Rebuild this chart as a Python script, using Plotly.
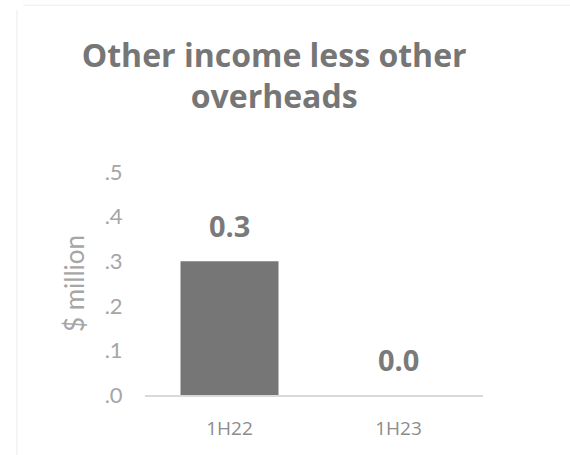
import plotly.graph_objects as go

categories = ["1H22", "1H23"]
values = [0.3, 0.0]
tick_vals = [0.0, 0.1, 0.2, 0.3, 0.4, 0.5]
tick_text = [".0", ".1", ".2", ".3", ".4", ".5"]
title_text = "Other income less other<br>overheads"
y_title = "$ million"

fig = go.Figure()
fig.add_trace(go.Bar(
    x=categories, y=values,
    marker=dict(color="#767676", line=dict(width=0)),
    width=0.58,
    hoverinfo="skip",
))

for c, v in zip(categories, values):
    fig.add_annotation(
        x=c, y=v, xref="x", yref="y",
        text=f"{v:.1f}", showarrow=False,
        yanchor="bottom", yshift=14,
        font=dict(family="Open Sans", size=29, color="#7a7a7a", weight="bold"),
    )

# faint outer chart border (left and top edges)
fig.add_shape(type="line", xref="paper", yref="paper",
              x0=-0.379, x1=-0.379, y0=-0.3, y1=1.726,
              line=dict(color="#f3f3f3", width=1.5))
fig.add_shape(type="line", xref="paper", yref="paper",
              x0=-0.36, x1=1.3, y0=1.748, y1=1.748,
              line=dict(color="#f3f3f3", width=1.5))

fig.update_layout(
    width=570, height=455,
    paper_bgcolor="white", plot_bgcolor="white",
    margin=dict(l=145, r=87, t=172, b=60),
    showlegend=False,
    title=dict(
        text=title_text,
        xref="container", yref="container",
        x=0.481, y=0.853, xanchor="center", yanchor="middle",
        font=dict(family="Open Sans", size=32, color="#767676", weight="bold"),
    ),
    xaxis=dict(
        showgrid=False, zeroline=False,
        showline=True, linecolor="#d9d9d9", linewidth=1.5,
        ticks="outside", ticklen=15, tickcolor="rgba(0,0,0,0)",
        tickfont=dict(family="Open Sans", size=19, color="#8c8c8c"),
    ),
    yaxis=dict(
        range=[0, 0.5], showgrid=False, zeroline=False, showline=False,
        tickvals=tick_vals, ticktext=tick_text,
        ticks="outside", ticklen=17, tickcolor="rgba(0,0,0,0)",
        tickfont=dict(family="Lato", size=22, color="#a6a6a6"),
        title=dict(text=y_title, standoff=12,
                   font=dict(family="Lato", size=26, color="#a6a6a6")),
    ),
)

fig.write_html("out.html")
